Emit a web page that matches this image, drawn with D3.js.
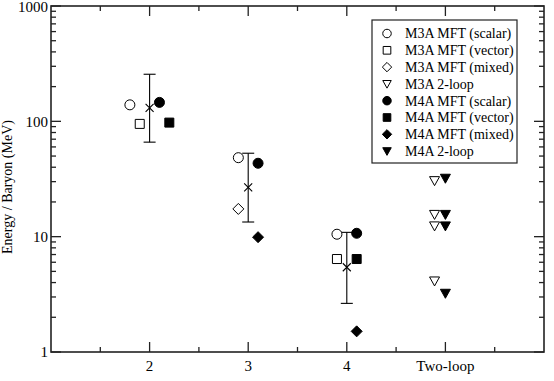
<!DOCTYPE html>
<html>
<head>
<meta charset="utf-8">
<script src="https://cdn.jsdelivr.net/npm/d3@7"></script>
<style>
  body { margin: 0; background: #fff; }
</style>
</head>
<body>
<script>
// x positions of the groups and their labels
var xTicks = [2, 3, 4, 5];
var xTickLabels = ["2", "3", "4", "Two-loop"];
var yTicks = [1, 10, 100, 1000];

// [x, energy per baryon]
var m3aScalar = [[1.8, 139], [2.9, 48.4], [3.9, 10.5]];
var m3aVector = [[1.9, 95], [3.9, 6.4]];
var m3aMixed = [[2.9, 17.4]];
var m3aTwoLoop = [[4.89, 30.6], [4.89, 15.6], [4.89, 12.4], [4.89, 4.13]];
var m4aScalar = [[2.1, 146], [3.1, 43.3], [4.1, 10.7]];
var m4aVector = [[2.2, 97.5], [4.1, 6.4]];
var m4aMixed = [[3.1, 9.9], [4.1, 1.51]];
var m4aTwoLoop = [[5.0, 32.1], [5.0, 15.6], [5.0, 12.4], [5.0, 3.23]];
// [x, value, low, high]
var experiment = [[2, 131, 66, 256], [3, 26.8, 13.4, 52.9], [4, 5.43, 2.64, 10.9]];

var series = [
  { name: "M3A MFT (scalar)", shape: "circle", fill: false, data: m3aScalar },
  { name: "M3A MFT (vector)", shape: "square", fill: false, data: m3aVector },
  { name: "M3A MFT (mixed)", shape: "diamond", fill: false, data: m3aMixed },
  { name: "M3A 2-loop", shape: "triangle", fill: false, data: m3aTwoLoop },
  { name: "M4A MFT (scalar)", shape: "circle", fill: true, data: m4aScalar },
  { name: "M4A MFT (vector)", shape: "square", fill: true, data: m4aVector },
  { name: "M4A MFT (mixed)", shape: "diamond", fill: true, data: m4aMixed },
  { name: "M4A 2-loop", shape: "triangle", fill: true, data: m4aTwoLoop }
];

var width = 554, height = 381;
var margin = { left: 51, right: 10, top: 6, bottom: 29 };
var plotW = width - margin.left - margin.right;
var plotH = height - margin.top - margin.bottom;
var serif = "'Liberation Serif', 'Times New Roman', Times, 'DejaVu Serif', serif";

var svg = d3.select("body").append("svg")
    .attr("width", width)
    .attr("height", height)
    .attr("font-family", serif)
    .style("font-family", serif);

var x = d3.scaleLinear().domain([1, 6]).range([0, plotW]);
var y = d3.scaleLog().domain([1, 1000]).range([plotH, 0]);

var g = svg.append("g")
    .attr("transform", `translate(${margin.left},${margin.top})`);

function shapePath(shape, s) {
  if (shape == "circle")
    return `M${-5 * s},0A${5 * s},${5 * s} 0 1,0 ${5 * s},0A${5 * s},${5 * s} 0 1,0 ${-5 * s},0Z`;
  if (shape == "square")
    return `M${-4.5 * s},${-4.5 * s}H${4.5 * s}V${4.5 * s}H${-4.5 * s}Z`;
  if (shape == "diamond")
    return `M0,${-5.5 * s}L${5.5 * s},0L0,${5.5 * s}L${-5.5 * s},0Z`;
  // downward triangle
  return `M${-5 * s},${-4 * s}L${5 * s},${-4 * s}L0,${5 * s}Z`;
}

// minor ticks for the log axis
var minorY = [];
for (var d = 1; d < 1000; d *= 10)
  for (var k = 2; k <= 9; k++) minorY.push(d * k);
var minorX = [1.5, 2.5, 3.5, 4.5, 5.5];

var ax = g.append("g").attr("stroke", "#222").attr("stroke-width", 1.3);

// left / right ticks
yTicks.forEach(function (v) {
  ax.append("line").attr("x1", 0).attr("x2", 10).attr("y1", y(v)).attr("y2", y(v));
  ax.append("line").attr("x1", plotW).attr("x2", plotW - 10).attr("y1", y(v)).attr("y2", y(v));
});
minorY.forEach(function (v) {
  ax.append("line").attr("x1", 0).attr("x2", 5).attr("y1", y(v)).attr("y2", y(v));
  ax.append("line").attr("x1", plotW).attr("x2", plotW - 5).attr("y1", y(v)).attr("y2", y(v));
});
// bottom / top ticks
xTicks.forEach(function (v) {
  ax.append("line").attr("x1", x(v)).attr("x2", x(v)).attr("y1", plotH).attr("y2", plotH - 10);
  ax.append("line").attr("x1", x(v)).attr("x2", x(v)).attr("y1", 0).attr("y2", 10);
});
minorX.forEach(function (v) {
  ax.append("line").attr("x1", x(v)).attr("x2", x(v)).attr("y1", plotH).attr("y2", plotH - 5);
  ax.append("line").attr("x1", x(v)).attr("x2", x(v)).attr("y1", 0).attr("y2", 5);
});

g.append("rect")
    .attr("width", plotW).attr("height", plotH)
    .attr("fill", "none").attr("stroke", "#222").attr("stroke-width", 1.6);

// tick labels
g.selectAll(".ylab").data(yTicks).enter().append("text")
    .attr("x", -3).attr("y", function (d) { return Math.max(y(d), 1); })
    .attr("dy", "0.35em").attr("text-anchor", "end")
    .attr("font-size", 15)
    .text(function (d) { return d; });

g.selectAll(".xlab").data(xTicks).enter().append("text")
    .attr("x", function (d) { return x(d); }).attr("y", plotH + 19)
    .attr("text-anchor", "middle")
    .attr("font-size", 15)
    .text(function (d, i) { return xTickLabels[i]; });

svg.append("text")
    .attr("transform", `translate(12,${margin.top + plotH / 2 + 8}) rotate(-90)`)
    .attr("text-anchor", "middle")
    .attr("font-size", 14)
    .text("Energy / Baryon (MeV)");

// error bars with crosses
var eb = g.append("g").attr("stroke", "#000").attr("stroke-width", 1.1).attr("fill", "none");
experiment.forEach(function (e) {
  var cx = x(e[0]);
  eb.append("line").attr("x1", cx).attr("x2", cx).attr("y1", y(e[2])).attr("y2", y(e[3]));
  eb.append("line").attr("x1", cx - 6).attr("x2", cx + 6).attr("y1", y(e[2])).attr("y2", y(e[2]));
  eb.append("line").attr("x1", cx - 6).attr("x2", cx + 6).attr("y1", y(e[3])).attr("y2", y(e[3]));
  eb.append("path")
      .attr("d", `M${cx - 4},${y(e[1]) - 4}L${cx + 4},${y(e[1]) + 4}M${cx - 4},${y(e[1]) + 4}L${cx + 4},${y(e[1]) - 4}`);
});

// markers
series.forEach(function (s) {
  g.selectAll(null).data(s.data).enter().append("path")
      .attr("d", shapePath(s.shape, 1))
      .attr("transform", function (d) { return `translate(${x(d[0])},${y(d[1])})`; })
      .attr("fill", s.fill ? "#000" : "#fff")
      .attr("stroke", "#000").attr("stroke-width", 1);
});

// legend
var legend = svg.append("g").attr("transform", "translate(372,20)");
legend.append("rect")
    .attr("width", 145).attr("height", 143)
    .attr("fill", "#fff").attr("stroke", "#222").attr("stroke-width", 1.2);
series.forEach(function (s, i) {
  var row = legend.append("g").attr("transform", `translate(0,${13.5 + i * 16.8})`);
  row.append("path")
      .attr("d", shapePath(s.shape, 0.85))
      .attr("transform", "translate(15,0)")
      .attr("fill", s.fill ? "#000" : "#fff")
      .attr("stroke", "#000").attr("stroke-width", 1);
  row.append("text")
      .attr("x", 33).attr("dy", "0.35em")
      .attr("font-size", 14)
      .text(s.name);
});
</script>
</body>
</html>
